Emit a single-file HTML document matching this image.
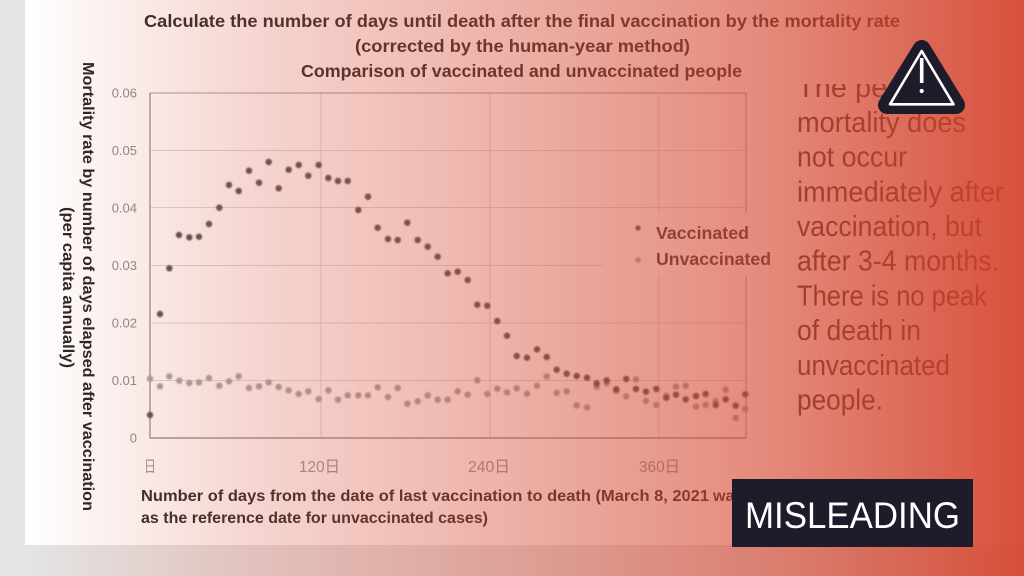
<!DOCTYPE html>
<html><head><meta charset="utf-8"><style>
html,body{margin:0;padding:0;background:#e5e5e5;}
svg{display:block;}
</style></head><body>
<svg width="1024" height="576" viewBox="0 0 1024 576" xmlns="http://www.w3.org/2000/svg">
<defs>
<linearGradient id="ov" gradientUnits="userSpaceOnUse" x1="0" y1="0" x2="1024" y2="0">
<stop offset="0.024" stop-color="rgb(212,68,45)" stop-opacity="0"/>
<stop offset="0.244" stop-color="rgb(212,68,45)" stop-opacity="0.22"/>
<stop offset="0.5" stop-color="rgb(212,68,45)" stop-opacity="0.42"/>
<stop offset="0.752" stop-color="rgb(212,68,45)" stop-opacity="0.63"/>
<stop offset="0.88" stop-color="rgb(212,68,45)" stop-opacity="0.78"/>
<stop offset="1" stop-color="rgb(212,68,45)" stop-opacity="0.93"/>
</linearGradient>
<filter id="bl" x="-50%" y="-50%" width="200%" height="200%"><feGaussianBlur stdDeviation="0.7"/></filter>
</defs>
<rect x="0" y="0" width="1024" height="576" fill="#e5e5e5"/>
<rect x="25" y="0" width="999" height="545" fill="#ffffff"/>

<g font-family="Liberation Sans, Noto Sans CJK JP, sans-serif">
<!-- Title -->
<g font-weight="bold" font-size="17.5" fill="#2b2b2b">
<text x="144" y="27" textLength="756" lengthAdjust="spacingAndGlyphs">Calculate the number of days until death after the final vaccination by the mortality rate</text>
<text x="355" y="52" textLength="335" lengthAdjust="spacingAndGlyphs">(corrected by the human-year method)</text>
<text x="301" y="77" textLength="441" lengthAdjust="spacingAndGlyphs">Comparison of vaccinated and unvaccinated people</text>
</g>

<!-- gridlines -->
<g stroke="#dadada" stroke-width="1">
<line x1="150" y1="150.5" x2="746" y2="150.5"/>
<line x1="150" y1="207.5" x2="746" y2="207.5"/>
<line x1="150" y1="265.5" x2="746" y2="265.5"/>
<line x1="150" y1="323" x2="746" y2="323"/>
<line x1="150" y1="380.5" x2="746" y2="380.5"/>
<line x1="321" y1="93" x2="321" y2="438"/>
<line x1="490" y1="93" x2="490" y2="438"/>
<line x1="659" y1="93" x2="659" y2="438"/>
</g>
<g stroke="#b3b3b3" stroke-width="1.3" fill="none">
<line x1="150" y1="93" x2="746" y2="93"/>
<line x1="746" y1="93" x2="746" y2="438"/>
</g>
<g stroke="#9a9a9a" stroke-width="1.4">
<line x1="150" y1="93" x2="150" y2="438.5"/>
<line x1="150" y1="438" x2="746" y2="438"/>
</g>

<!-- legend mask -->
<rect x="604" y="213" width="186" height="63" fill="#ffffff"/>

<!-- Y ticks -->
<g font-size="13" fill="#8c8c8c" text-anchor="end">
<text x="137" y="97.5">0.06</text>
<text x="137" y="155">0.05</text>
<text x="137" y="212.5">0.04</text>
<text x="137" y="270">0.03</text>
<text x="137" y="327.5">0.02</text>
<text x="137" y="385">0.01</text>
<text x="137" y="442.5">0</text>
</g>
<!-- X ticks -->
<g font-size="16" fill="#9a9a9a">
<text x="144" y="472" textLength="12" lengthAdjust="spacingAndGlyphs">日</text>
<text x="299" y="472" textLength="41" lengthAdjust="spacingAndGlyphs">120日</text>
<text x="468" y="472" textLength="42" lengthAdjust="spacingAndGlyphs">240日</text>
<text x="639" y="472" textLength="41" lengthAdjust="spacingAndGlyphs">360日</text>
</g>

<!-- Y axis title -->
<g font-weight="bold" font-size="16" fill="#262626">
<text transform="translate(83,62) rotate(90)" textLength="449" lengthAdjust="spacingAndGlyphs">Mortality rate by number of days elapsed after vaccination</text>
<text transform="translate(63,207) rotate(90)" textLength="161" lengthAdjust="spacingAndGlyphs">(per capita annually)</text>
</g>

<!-- X axis title -->
<g font-weight="bold" font-size="16" fill="#2b2b2b">
<text x="141" y="501" textLength="568" lengthAdjust="spacingAndGlyphs">Number of days from the date of last vaccination to death (March 8, 2021</text>
<text x="713" y="501">was used</text>
<text x="141" y="523" textLength="347" lengthAdjust="spacingAndGlyphs">as the reference date for unvaccinated cases)</text>
</g>

<!-- Legend -->
<circle cx="638" cy="228" r="2.6" fill="#555" filter="url(#bl)"/>
<circle cx="638" cy="260" r="2.6" fill="#a8a8a8" filter="url(#bl)"/>
<g font-weight="bold" font-size="17.5" fill="#3a3a3a">
<text x="656" y="239" textLength="93" lengthAdjust="spacingAndGlyphs">Vaccinated</text>
<text x="656" y="265" textLength="115" lengthAdjust="spacingAndGlyphs">Unvaccinated</text>
</g>

<!-- Unvaccinated points -->
<g fill="#a6a6a6" filter="url(#bl)">
<circle cx="150" cy="378.7" r="3.2"/><circle cx="160" cy="386.3" r="3.2"/><circle cx="169.3" cy="376.3" r="3.2"/><circle cx="179.3" cy="380.7" r="3.2"/><circle cx="189.3" cy="383" r="3.2"/><circle cx="199" cy="382.3" r="3.2"/><circle cx="209" cy="378" r="3.2"/><circle cx="219.3" cy="385.7" r="3.2"/><circle cx="229" cy="381.3" r="3.2"/><circle cx="238.7" cy="376.3" r="3.2"/><circle cx="249" cy="388" r="3.2"/><circle cx="259" cy="386.3" r="3.2"/><circle cx="268.7" cy="382.3" r="3.2"/><circle cx="278.7" cy="387" r="3.2"/><circle cx="288.7" cy="390.3" r="3.2"/><circle cx="298.7" cy="394" r="3.2"/><circle cx="308.3" cy="391.3" r="3.2"/><circle cx="318.7" cy="399" r="3.2"/><circle cx="328.3" cy="390.3" r="3.2"/><circle cx="338" cy="399.7" r="3.2"/><circle cx="347.7" cy="395.3" r="3.2"/><circle cx="358.3" cy="395.3" r="3.2"/><circle cx="368" cy="395.3" r="3.2"/><circle cx="377.7" cy="387.3" r="3.2"/><circle cx="388" cy="397" r="3.2"/><circle cx="397.7" cy="388" r="3.2"/><circle cx="407.3" cy="403.7" r="3.2"/><circle cx="417.7" cy="401.3" r="3.2"/><circle cx="427.7" cy="395.3" r="3.2"/><circle cx="437.7" cy="399.7" r="3.2"/><circle cx="447.7" cy="399.7" r="3.2"/><circle cx="457.7" cy="391.3" r="3.2"/><circle cx="467.7" cy="394.7" r="3.2"/><circle cx="477.3" cy="380.3" r="3.2"/><circle cx="487.3" cy="394" r="3.2"/><circle cx="497.3" cy="388.7" r="3.2"/><circle cx="507" cy="392.3" r="3.2"/><circle cx="516.7" cy="388.3" r="3.2"/><circle cx="527" cy="393.7" r="3.2"/><circle cx="537" cy="385.7" r="3.2"/><circle cx="546.7" cy="376.3" r="3.2"/><circle cx="556.7" cy="393" r="3.2"/><circle cx="566.7" cy="391.3" r="3.2"/><circle cx="576.7" cy="405.3" r="3.2"/><circle cx="587" cy="407.3" r="3.2"/><circle cx="596.7" cy="386.7" r="3.2"/><circle cx="606.7" cy="383.3" r="3.2"/><circle cx="616.3" cy="391" r="3.2"/><circle cx="626.3" cy="396.3" r="3.2"/><circle cx="636" cy="379.3" r="3.2"/><circle cx="646" cy="401" r="3.2"/><circle cx="656.3" cy="405" r="3.2"/><circle cx="666.3" cy="395.7" r="3.2"/><circle cx="676" cy="386.7" r="3.2"/><circle cx="685.7" cy="385.7" r="3.2"/><circle cx="696" cy="406.7" r="3.2"/><circle cx="705.7" cy="405" r="3.2"/><circle cx="715.7" cy="401" r="3.2"/><circle cx="725.7" cy="389.7" r="3.2"/><circle cx="735.7" cy="418" r="3.2"/><circle cx="745.3" cy="409" r="3.2"/>
</g>
<!-- Vaccinated points -->
<g fill="#555555" filter="url(#bl)">
<circle cx="150" cy="415" r="3.2"/><circle cx="160" cy="314" r="3.2"/><circle cx="169.3" cy="268.3" r="3.2"/><circle cx="179" cy="235" r="3.2"/><circle cx="189.3" cy="237.3" r="3.2"/><circle cx="199" cy="236.7" r="3.2"/><circle cx="209" cy="224" r="3.2"/><circle cx="219.3" cy="207.7" r="3.2"/><circle cx="229" cy="185" r="3.2"/><circle cx="238.7" cy="191" r="3.2"/><circle cx="249" cy="170.7" r="3.2"/><circle cx="259" cy="182.7" r="3.2"/><circle cx="268.7" cy="162" r="3.2"/><circle cx="278.7" cy="188.3" r="3.2"/><circle cx="288.7" cy="169.7" r="3.2"/><circle cx="298.7" cy="165" r="3.2"/><circle cx="308.3" cy="175.7" r="3.2"/><circle cx="318.7" cy="165" r="3.2"/><circle cx="328.3" cy="178" r="3.2"/><circle cx="338" cy="181" r="3.2"/><circle cx="347.7" cy="181" r="3.2"/><circle cx="358.3" cy="210" r="3.2"/><circle cx="368" cy="196.7" r="3.2"/><circle cx="377.7" cy="227.7" r="3.2"/><circle cx="388" cy="239" r="3.2"/><circle cx="397.7" cy="240" r="3.2"/><circle cx="407.3" cy="222.7" r="3.2"/><circle cx="417.7" cy="240" r="3.2"/><circle cx="427.7" cy="246.7" r="3.2"/><circle cx="437.7" cy="256.7" r="3.2"/><circle cx="447.7" cy="273.3" r="3.2"/><circle cx="457.7" cy="271.7" r="3.2"/><circle cx="467.7" cy="280" r="3.2"/><circle cx="477.3" cy="304.7" r="3.2"/><circle cx="487.3" cy="305.7" r="3.2"/><circle cx="497.3" cy="321" r="3.2"/><circle cx="507" cy="335.7" r="3.2"/><circle cx="516.7" cy="356" r="3.2"/><circle cx="527" cy="357.7" r="3.2"/><circle cx="537" cy="349.3" r="3.2"/><circle cx="546.7" cy="357" r="3.2"/><circle cx="556.7" cy="369.7" r="3.2"/><circle cx="566.7" cy="373.7" r="3.2"/><circle cx="576.7" cy="376" r="3.2"/><circle cx="587" cy="377.7" r="3.2"/><circle cx="596.7" cy="383.3" r="3.2"/><circle cx="606.7" cy="380.3" r="3.2"/><circle cx="616.3" cy="389.3" r="3.2"/><circle cx="626.3" cy="379" r="3.2"/><circle cx="636" cy="389" r="3.2"/><circle cx="646" cy="391.7" r="3.2"/><circle cx="656.3" cy="389" r="3.2"/><circle cx="666.3" cy="397.7" r="3.2"/><circle cx="676" cy="394.7" r="3.2"/><circle cx="685.7" cy="399.3" r="3.2"/><circle cx="696" cy="396" r="3.2"/><circle cx="705.7" cy="394" r="3.2"/><circle cx="715.7" cy="405" r="3.2"/><circle cx="725.7" cy="399.3" r="3.2"/><circle cx="735.7" cy="405.7" r="3.2"/><circle cx="745.3" cy="394.3" r="3.2"/>
</g>

<!-- Right text -->
<g font-size="29" fill="#333333">
<text x="797" y="97">The peak of</text>
<text x="797" y="132" textLength="169" lengthAdjust="spacingAndGlyphs">mortality does</text>
<text x="797" y="166.7" textLength="110" lengthAdjust="spacingAndGlyphs">not occur</text>
<text x="797" y="201.4" textLength="207" lengthAdjust="spacingAndGlyphs">immediately after</text>
<text x="797" y="236" textLength="185" lengthAdjust="spacingAndGlyphs">vaccination, but</text>
<text x="797" y="270.7" textLength="202" lengthAdjust="spacingAndGlyphs">after 3-4 months.</text>
<text x="797" y="305.4" textLength="190" lengthAdjust="spacingAndGlyphs">There is no peak</text>
<text x="797" y="340" textLength="124" lengthAdjust="spacingAndGlyphs">of death in</text>
<text x="797" y="374.8" textLength="153" lengthAdjust="spacingAndGlyphs">unvaccinated</text>
<text x="797" y="409.5" textLength="86" lengthAdjust="spacingAndGlyphs">people.</text>
</g>
<!-- cover top of first line -->
<rect x="785" y="55" width="100" height="29" fill="#ffffff"/>
</g>

<!-- red overlay -->
<rect x="0" y="0" width="1024" height="576" fill="url(#ov)"/>

<!-- Warning icon -->
<path d="M921.7 49 L887 105 L956 105 Z" fill="#1e1c2a" stroke="#1e1c2a" stroke-width="18" stroke-linejoin="round"/>
<path d="M921.7 51 L890 104.3 L953.5 104.3 Z" fill="none" stroke="#ffffff" stroke-width="2.6" stroke-linejoin="round"/>
<line x1="921.7" y1="58" x2="921.7" y2="83" stroke="#ffffff" stroke-width="3.6"/>
<circle cx="921.7" cy="91" r="2.1" fill="#ffffff"/>

<!-- MISLEADING box -->
<rect x="732" y="479" width="241" height="68" fill="#1e1c2a"/>
<text x="745" y="528" font-family="Liberation Sans, sans-serif" font-size="37" fill="#ffffff" textLength="215" lengthAdjust="spacingAndGlyphs">MISLEADING</text>
</svg>
</body></html>
